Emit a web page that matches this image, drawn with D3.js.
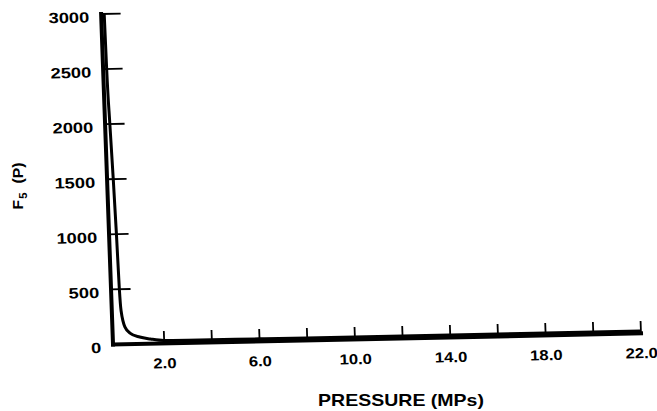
<!DOCTYPE html>
<html>
<head>
<meta charset="utf-8">
<script src="https://cdn.jsdelivr.net/npm/d3@7"></script>
<style>
  html, body { margin: 0; padding: 0; background: #fff; }
  svg { display: block; }
  text { font-family: "Liberation Sans", Arial, Helvetica, sans-serif; font-weight: bold; fill: #000; }
</style>
</head>
<body>
<svg id="chart" width="657" height="411"></svg>
<script>
// F5 factor against pressure (MPa)
const pressure = [0.0, 0.02, 0.07, 0.13, 0.18, 0.22, 0.26, 0.40, 0.60, 1.0, 1.45, 2.0,
                  3.0, 4.0, 6.0, 8.0, 10.0, 12.0, 14.0, 16.0, 18.0, 20.0, 22.0];
const f5 = [3000, 2500, 2000, 1500, 1000, 500, 300, 150, 96, 58, 38, 22,
            20, 19, 19, 18, 18, 18, 18, 18, 18, 18, 18];

const xTickValues = [2, 4, 6, 8, 10, 12, 14, 16, 18, 20, 22];
const xTickLabels = ["2.0", "6.0", "10.0", "14.0", "18.0", "22.0"];
const yTickValues = [500, 1000, 1500, 2000, 2500, 3000];

const svg = d3.select("#chart");
const stretch = 1.22;   // wide lettering
const xStretch = 1.15;

// plot frame, origin at the corner of the axes (slightly skewed frame)
const frame = svg.append("g")
  .attr("transform", "matrix(1,-0.021,0.036,1,112.5,344)");

const x = d3.scaleLinear().domain([-0.15, 22]).range([0, 528]);
const y = d3.scaleLinear().domain([0, 3000]).range([0, -330.5]);

// x axis: ticks point up, only every other tick labelled
const xAxis = d3.axisBottom(x)
  .tickValues(xTickValues)
  .tickSize(-12)
  .tickSizeOuter(0)
  .tickPadding(15)
  .tickFormat(d => xTickLabels.includes(d.toFixed(1)) ? d.toFixed(1) : "");

const gx = frame.append("g").call(xAxis);
gx.attr("font-size", 14.5).attr("font-family", null);
gx.select(".domain").attr("stroke", "#000").attr("stroke-width", 4).attr("stroke-linecap", "square");
gx.selectAll(".tick line").attr("stroke", "#000").attr("stroke-width", 1.8);
gx.selectAll(".tick text").attr("transform", `scale(${xStretch},1)`);

// y axis: ticks point right into the plot
const yAxis = d3.axisLeft(y)
  .tickValues(yTickValues.concat([0]))
  .tickSize(-20)
  .tickSizeOuter(0)
  .tickPadding(11.5)
  .tickFormat(d3.format("d"));

const gy = frame.append("g").call(yAxis);
gy.attr("font-size", 15).attr("font-family", null);
gy.select(".domain").attr("stroke", "#000").attr("stroke-width", 4).attr("stroke-linecap", "square");
gy.selectAll(".tick line").attr("stroke", "#000").attr("stroke-width", 1.8)
  .attr("display", d => d === 0 ? "none" : null);
gy.selectAll(".tick text")
  .attr("x", -11.5 / stretch)
  .attr("dy", "0.55em")
  .attr("transform", `scale(${stretch},1)`);

// F5 curve
const line = d3.line()
  .x(d => x(d[0]))
  .y(d => y(d[1]))
  .curve(d3.curveMonotoneX);

frame.append("path")
  .datum(pressure.map((p, i) => [p, f5[i]]))
  .attr("d", line)
  .attr("fill", "none")
  .attr("stroke", "#000")
  .attr("stroke-width", 3)
  .attr("stroke-linejoin", "round");

// axis titles
svg.append("text")
  .attr("transform", `translate(401,406) scale(${stretch},1)`)
  .attr("text-anchor", "middle")
  .attr("font-size", 16)
  .text("PRESSURE (MPs)");

const yTitle = svg.append("text")
  .attr("transform", "translate(23,186) rotate(-90) scale(1.12,1)")
  .attr("text-anchor", "middle")
  .attr("font-size", 14);
yTitle.append("tspan").text("F");
yTitle.append("tspan").attr("font-size", 10).attr("dy", 4).attr("dx", 1).text("5");
yTitle.append("tspan").attr("dy", -4).attr("dx", 8).text("(P)");
</script>
</body>
</html>
